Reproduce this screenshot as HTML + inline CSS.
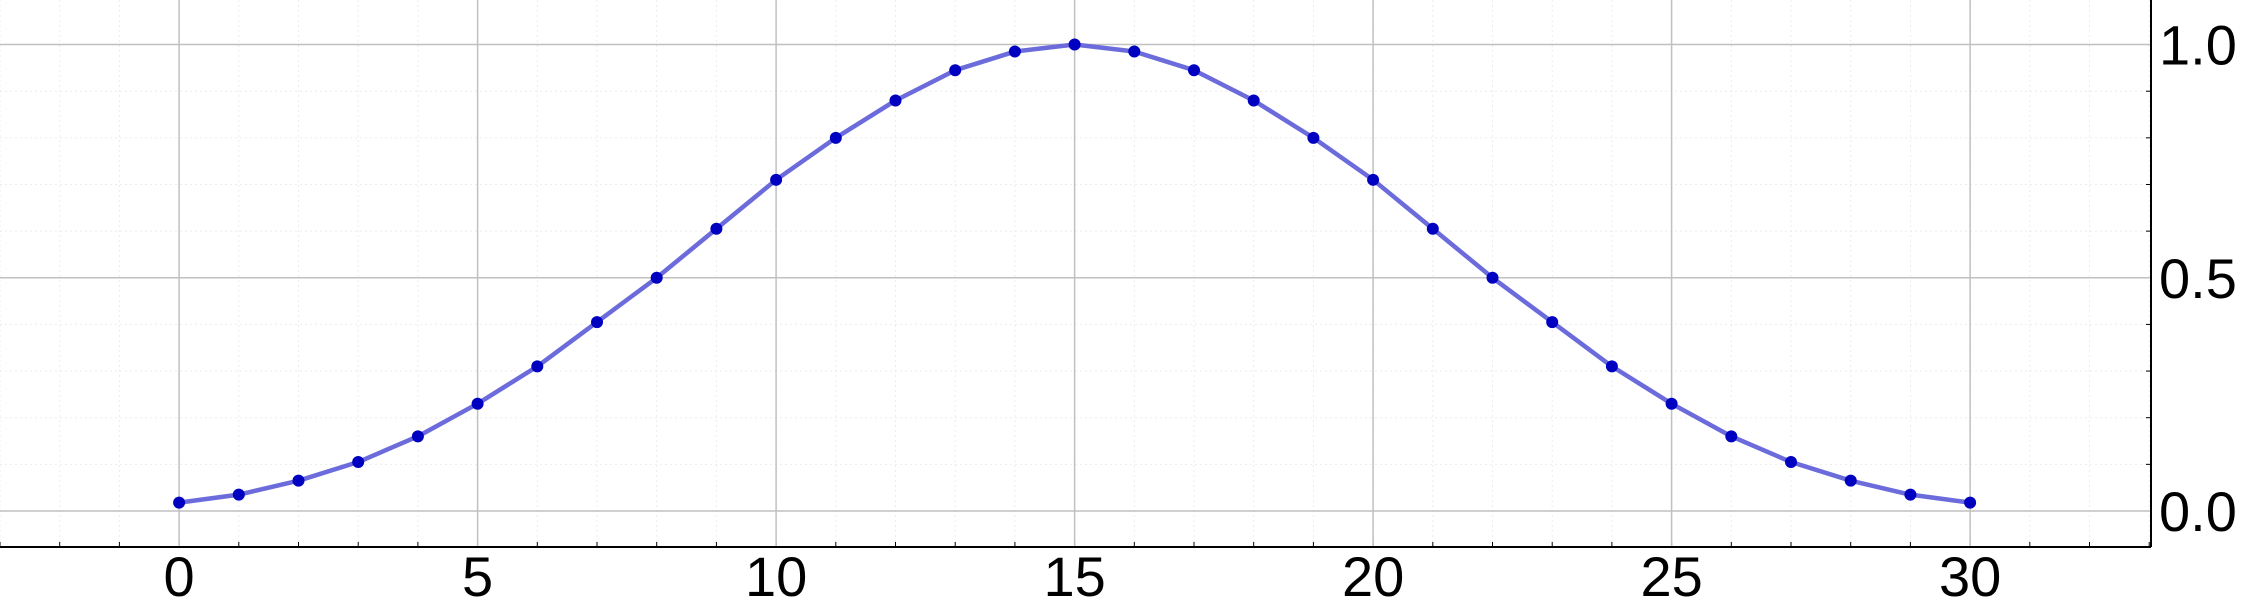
<!DOCTYPE html>
<html><head><meta charset="utf-8"><style>
html,body{margin:0;padding:0;background:#fff;}
svg{display:block;}
text{font-family:"Liberation Sans","DejaVu Sans",sans-serif;fill:#000;}
</style></head><body>
<svg id="chart" width="2250" height="600" viewBox="0 0 2250 600" xmlns="http://www.w3.org/2000/svg"></svg>
<script>
const xs = [0,1,2,3,4,5,6,7,8,9,10,11,12,13,14,15,16,17,18,19,20,21,22,23,24,25,26,27,28,29,30];
const ys = [0.018,0.035,0.065,0.105,0.16,0.23,0.31,0.405,0.50,0.605,0.71,0.80,0.88,0.945,0.985,1.0,0.985,0.945,0.88,0.80,0.71,0.605,0.50,0.405,0.31,0.23,0.16,0.105,0.065,0.035,0.018];
const xTicks = [0,5,10,15,20,25,30];
const yTicks = [0,0.5,1.0];
const yTickLabels = ["0.0","0.5","1.0"];

const svg = document.getElementById('chart');
const NS = 'http://www.w3.org/2000/svg';
const L=0, R=2151, T=0, B=547;
const xMin=-3, xMax=33.03, yMin=-0.0772, yMax=1.0955;
function X(v){return L+(v-xMin)/(xMax-xMin)*(R-L);}
function Y(v){return B-(v-yMin)/(yMax-yMin)*(B-T);}
function mk(tag, attrs){const e=document.createElementNS(NS,tag);for(const k in attrs)e.setAttribute(k,attrs[k]);svg.appendChild(e);return e;}

for(let v=-3; v<=33; v++){
  const e=mk('line',{x1:X(v),x2:X(v),y1:T,y2:B,stroke:'#ececec','stroke-width':1,'stroke-dasharray':'2,3'});
  
  
  const t=mk('line',{x1:X(v),x2:X(v),y1:B-5,y2:B,stroke:'#000','stroke-width':1});
  
  
}
for(let i=0; i<=10; i++){
  const v=i/10;
  const e=mk('line',{x1:L,x2:R,y1:Y(v),y2:Y(v),stroke:'#ececec','stroke-width':1,'stroke-dasharray':'2,3'});
  
  
  const t=mk('line',{x1:R-5,x2:R,y1:Y(v),y2:Y(v),stroke:'#000','stroke-width':1});
  
  
}
xTicks.forEach(v=>{
  const g=mk('line',{x1:X(v),x2:X(v),y1:T,y2:B,stroke:'#c0c0c0','stroke-width':1.5});
  
  
  const t=mk('text',{x:X(v),y:596,'font-size':56,'text-anchor':'middle'});
  t.textContent=String(v);
  
  
});
yTicks.forEach((v,i)=>{
  const g=mk('line',{x1:L,x2:R,y1:Y(v),y2:Y(v),stroke:'#c0c0c0','stroke-width':1.5});
  
  
  const t=mk('text',{x:2159,y:Y(v)+20,'font-size':56,'text-anchor':'start'});
  t.textContent=yTickLabels[i];
  
  
});
const ax=mk('line',{x1:L,x2:R,y1:B,y2:B,stroke:'#000','stroke-width':2});


const ay=mk('line',{x1:R,x2:R,y1:T,y2:B,stroke:'#000','stroke-width':2});


const pts=xs.map((x,i)=>X(x)+','+Y(ys[i])).join(' ');
const line=mk('polyline',{points:pts,fill:'none',stroke:'#6b6bdb','stroke-width':4.5,'stroke-linejoin':'round'});


xs.forEach((x,i)=>{
  const c=mk('circle',{cx:X(x),cy:Y(ys[i]),r:6,fill:'#0000c0'});
  
  
});
</script>
</body></html>
